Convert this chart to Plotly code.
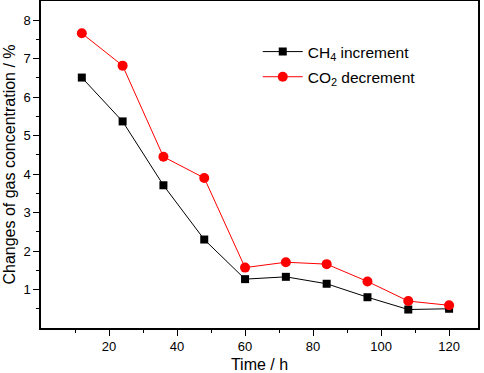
import plotly.graph_objects as go

time_h = [12, 24, 36, 48, 60, 72, 84, 96, 108, 120]
ch4_increment = [6.51, 5.37, 3.71, 2.30, 1.27, 1.33, 1.15, 0.80, 0.48, 0.50]
co2_decrement = [7.66, 6.82, 4.45, 3.90, 1.57, 1.71, 1.66, 1.21, 0.70, 0.59]
x_ticks = [20, 40, 60, 80, 100, 120]
y_ticks = [1, 2, 3, 4, 5, 6, 7, 8]

font = "Liberation Sans, Arial, sans-serif"

fig = go.Figure()
fig.add_trace(go.Scatter(
    x=time_h, y=ch4_increment, mode="lines+markers",
    name="CH<sub>4</sub> increment", legendgroup="a",
    line=dict(color="black", width=1),
    marker=dict(symbol="square", size=8, color="black"),
))
fig.add_trace(go.Scatter(
    x=time_h, y=co2_decrement, mode="lines+markers",
    name="CO<sub>2</sub> decrement", legendgroup="b",
    line=dict(color="#ff0000", width=1),
    marker=dict(symbol="circle", size=10, color="#ff0000"),
))

axis_common = dict(
    showline=True, linecolor="black", linewidth=1.5, mirror=True,
    ticks="outside", ticklen=6, tickwidth=1.2, tickcolor="black",
    showgrid=False, zeroline=False, automargin=False,
    tickfont=dict(family=font, size=13, color="black"),
)

fig.update_xaxes(
    range=[0, 128.5], tickvals=x_ticks,
    title=dict(text="Time / h", font=dict(family=font, size=16, color="black"), standoff=7),
    minor=dict(tickvals=[10, 30, 50, 70, 90, 110], ticks="outside", ticklen=3, tickcolor="black", tickwidth=1.2),
    **axis_common,
)
fig.update_yaxes(
    range=[0, 8.5], tickvals=y_ticks,
    title=dict(text="Changes of gas concentration / %", font=dict(family=font, size=16, color="black"), standoff=4),
    minor=dict(tickvals=[0.5, 1.5, 2.5, 3.5, 4.5, 5.5, 6.5, 7.5], ticks="outside", ticklen=3, tickcolor="black", tickwidth=1.2),
    **axis_common,
)

fig.update_layout(
    width=484, height=373,
    margin=dict(l=41, r=6, t=1, b=45),
    paper_bgcolor="white", plot_bgcolor="white",
    showlegend=True,
    legend=dict(
        x=0.496, y=0.896, xanchor="left", yanchor="top",
        font=dict(family=font, size=15.5, color="black"),
        bgcolor="rgba(0,0,0,0)", itemwidth=40, tracegroupgap=2,
    ),
)

fig.write_html("out.html", config={"displayModeBar": False},
               post_script="document.body.style.margin='0';")
